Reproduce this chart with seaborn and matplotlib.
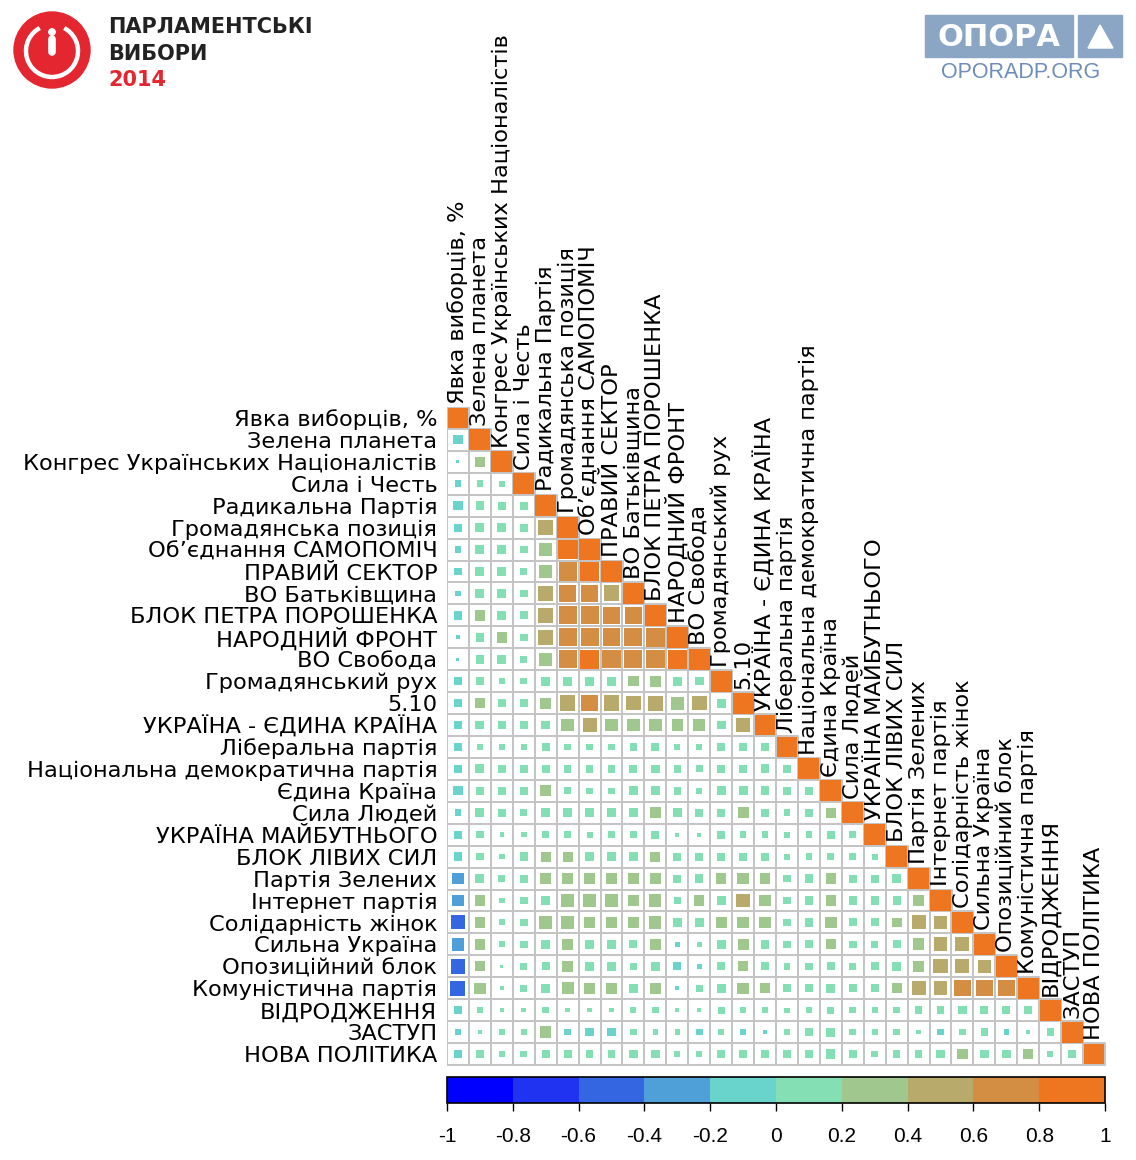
import numpy as np
import pandas as pd
import matplotlib
matplotlib.use('Agg')
import matplotlib.pyplot as plt
import seaborn as sns
from matplotlib.colors import ListedColormap, Normalize
from matplotlib.cm import ScalarMappable
from matplotlib.patches import Circle, Rectangle, Polygon, Arc

sns.set_theme(style='white')
plt.rcParams['font.family'] = ['DejaVu Sans']
plt.rcParams['text.color'] = 'black'

# Variables (turnout + party results)
parties = ['Явка виборців, %', 'Зелена планета', 'Конгрес Українських Націоналістів',
           'Сила і Честь', 'Радикальна Партія', 'Громадянська позиція',
           'Об’єднання САМОПОМІЧ', 'ПРАВИЙ СЕКТОР', 'ВО Батьківщина',
           'БЛОК ПЕТРА ПОРОШЕНКА', 'НАРОДНИЙ ФРОНТ', 'ВО Свобода',
           'Громадянський рух', '5.10', 'УКРАЇНА - ЄДИНА КРАЇНА',
           'Ліберальна партія', 'Національна демократична партія', 'Єдина Країна',
           'Сила Людей', 'УКРАЇНА МАЙБУТНЬОГО', 'БЛОК ЛІВИХ СИЛ', 'Партія Зелених',
           'Інтернет партія', 'Солідарність жінок', 'Сильна Україна',
           'Опозиційний блок', 'Комуністична партія', 'ВІДРОДЖЕННЯ', 'ЗАСТУП',
           'НОВА ПОЛІТИКА']

# lower triangle of the correlation matrix, row i holds columns 0..i-1
corr_lower = [
    [-0.19],
    [-0.02, 0.25],
    [-0.10, 0.10, 0.09],
    [-0.19, 0.17, 0.15, 0.15],
    [-0.15, 0.19, 0.19, 0.15, 0.50],
    [-0.10, 0.19, 0.18, 0.14, 0.38, 0.90],
    [-0.13, 0.18, 0.18, 0.12, 0.38, 0.75, 0.85],
    [-0.07, 0.18, 0.18, 0.14, 0.55, 0.72, 0.72, 0.58],
    [-0.18, 0.25, 0.18, 0.15, 0.52, 0.75, 0.75, 0.72, 0.72],
    [-0.04, 0.17, 0.26, 0.13, 0.50, 0.75, 0.75, 0.72, 0.75, 0.78],
    [-0.02, 0.17, 0.19, 0.12, 0.38, 0.75, 0.82, 0.75, 0.75, 0.78, 0.85],
    [-0.17, 0.16, 0.10, 0.10, 0.18, 0.19, 0.19, 0.19, 0.26, 0.28, 0.18, 0.17],
    [-0.17, 0.26, 0.15, 0.16, 0.28, 0.55, 0.62, 0.55, 0.50, 0.52, 0.38, 0.50, 0.19],
    [-0.15, 0.18, 0.15, 0.16, 0.18, 0.36, 0.45, 0.36, 0.34, 0.37, 0.30, 0.34, 0.18, 0.50],
    [-0.12, 0.10, 0.07, 0.08, 0.15, 0.10, 0.09, 0.09, 0.13, 0.15, 0.08, 0.07, 0.13, 0.14, 0.12],
    [-0.14, 0.19, 0.17, 0.13, 0.15, 0.12, 0.13, 0.13, 0.15, 0.16, 0.12, 0.11, 0.13, 0.17, 0.18, 0.12],
    [-0.19, 0.16, 0.13, 0.13, 0.27, 0.12, 0.10, 0.10, 0.18, 0.19, 0.13, 0.08, 0.18, 0.18, 0.18, 0.13, 0.16],
    [-0.10, 0.19, 0.13, 0.10, 0.18, 0.18, 0.19, 0.18, 0.17, 0.26, 0.17, 0.16, 0.15, 0.27, 0.16, 0.10,
     0.15, 0.25],
    [-0.14, 0.12, 0.05, 0.07, 0.13, 0.12, 0.08, 0.12, 0.12, 0.14, 0.04, 0.04, 0.15, 0.10, 0.10, 0.08,
     0.10, 0.15, 0.10],
    [-0.16, 0.13, 0.07, 0.16, 0.24, 0.24, 0.17, 0.16, 0.17, 0.24, 0.15, 0.15, 0.14, 0.15, 0.15, 0.08,
     0.10, 0.12, 0.10, 0.08],
    [-0.30, 0.18, 0.12, 0.15, 0.27, 0.30, 0.27, 0.27, 0.26, 0.29, 0.15, 0.16, 0.24, 0.30, 0.27, 0.13,
     0.17, 0.25, 0.15, 0.15, 0.16],
    [-0.30, 0.24, 0.08, 0.13, 0.17, 0.36, 0.36, 0.38, 0.30, 0.34, 0.13, 0.24, 0.18, 0.45, 0.32, 0.14,
     0.16, 0.25, 0.15, 0.15, 0.15, 0.30],
    [-0.45, 0.26, 0.08, 0.13, 0.36, 0.36, 0.30, 0.30, 0.32, 0.34, 0.18, 0.17, 0.27, 0.30, 0.30, 0.13,
     0.16, 0.30, 0.15, 0.15, 0.22, 0.45, 0.42],
    [-0.38, 0.25, 0.08, 0.13, 0.17, 0.26, 0.19, 0.19, 0.15, 0.30, -0.05, 0.06, 0.18, 0.27, 0.18, 0.13,
     0.15, 0.22, 0.13, 0.13, 0.15, 0.32, 0.45, 0.45],
    [-0.48, 0.24, 0.02, 0.10, 0.15, 0.25, 0.17, 0.18, 0.10, 0.17, -0.15, -0.05, 0.16, 0.24, 0.16, 0.10,
     0.13, 0.16, 0.11, 0.14, 0.17, 0.30, 0.46, 0.46, 0.42],
    [-0.52, 0.29, 0.04, 0.12, 0.18, 0.34, 0.27, 0.27, 0.18, 0.29, -0.04, 0.12, 0.18, 0.29, 0.25, 0.13,
     0.16, 0.18, 0.13, 0.14, 0.22, 0.45, 0.45, 0.62, 0.62, 0.62],
    [-0.14, 0.08, 0.04, 0.05, 0.10, 0.05, 0.05, 0.05, 0.08, 0.10, 0.04, 0.04, 0.12, 0.10, 0.08, 0.06,
     0.08, 0.12, 0.10, 0.08, 0.10, 0.13, 0.13, 0.16, 0.15, 0.15, 0.16],
    [-0.08, 0.04, 0.07, 0.07, 0.30, -0.10, -0.16, -0.16, 0.10, 0.07, 0.07, -0.10, 0.07, -0.10, -0.03,
     0.08, 0.12, 0.19, 0.10, 0.08, 0.10, 0.05, -0.10, 0.10, 0.12, -0.07, 0.03, 0.12],
    [-0.15, 0.13, 0.07, 0.10, 0.16, 0.15, 0.13, 0.12, 0.17, 0.18, 0.08, 0.08, 0.16, 0.17, 0.16, 0.12,
     0.13, 0.19, 0.13, 0.10, 0.13, 0.14, 0.16, 0.24, 0.18, 0.18, 0.24, 0.10, 0.13],
]

bin_colors = ['#0000FF', '#1F33F0', '#3366E0', '#4FA0D9', '#68D4CC',
              '#84E0B4', '#A0C88E', '#B8AA6A', '#D48E44', '#EF7621']
cbar_ticks = [-1, -0.8, -0.6, -0.4, -0.2, 0, 0.2, 0.4, 0.6, 0.8, 1]
cbar_labels = ['-1', '-0.8', '-0.6', '-0.4', '-0.2', '0', '0.2', '0.4', '0.6', '0.8', '1']

n = len(parties)
corr = np.eye(n)
for i, row in enumerate(corr_lower, start=1):
    corr[i, :i] = row
    corr[:i, i] = row

W, H = 1136, 1160
fig = plt.figure(figsize=(W / 100, H / 100), dpi=100)
ax = fig.add_axes([447 / W, 1 - 1065 / H, 658 / W, 658 / H])

rows, cols = np.tril_indices(n)
df = pd.DataFrame({'x': cols + 0.5, 'y': rows + 0.5, 'r': corr[rows, cols]})
df['absr'] = df['r'].abs()

cell_pt = 658 / n * 72 / 100

# grid of the lower triangle (white cells with grey border)
sns.scatterplot(data=df, x='x', y='y', marker='s', s=cell_pt ** 2, color='white',
                edgecolor='#C4C4C4', linewidth=1.4, legend=False, ax=ax, zorder=1)

# squares: colour by correlation bin, area by |r|
cmap = ListedColormap(bin_colors)
norm = Normalize(-1, 1)
sns.scatterplot(data=df, x='x', y='y', hue='r', palette=cmap, hue_norm=norm,
                size='absr', sizes=(0, (0.95 * cell_pt) ** 2), size_norm=(0, 1),
                marker='s', linewidth=0, legend=False, ax=ax, zorder=2)

ax.set_xlim(0, n)
ax.set_ylim(n, 0)
ax.set_xlabel('')
ax.set_ylabel('')
ax.set_xticks([])
ax.set_yticks(np.arange(n) + 0.5)
ax.set_yticklabels(parties, fontsize=16.2, color='black')
ax.tick_params(axis='y', length=0, pad=7)
for s in ax.spines.values():
    s.set_visible(False)

for c, name in enumerate(parties):
    ax.text(c + 0.5, c - 0.15, name, rotation=90, ha='center', va='bottom',
            fontsize=16.2, color='black', clip_on=False)

# colour legend
cax = fig.add_axes([447 / W, 1 - 1103 / H, 658 / W, 26 / H])
cb = fig.colorbar(ScalarMappable(norm=norm, cmap=cmap), cax=cax,
                  orientation='horizontal', ticks=cbar_ticks)
cb.ax.set_xticklabels(cbar_labels, fontsize=15, color='black',
                      family=['Liberation Sans', 'DejaVu Sans'])
cb.ax.tick_params(length=6, width=1, pad=11, color='black')
cb.outline.set_linewidth(1.2)
cb.outline.set_edgecolor('black')

# logos
lg = fig.add_axes([0, 0, 1, 1], zorder=-1)
lg.set_xlim(0, W)
lg.set_ylim(H, 0)
lg.axis('off')

red = '#E3262F'
lg.add_patch(Circle((52, 50), 38, color=red))
lg.add_patch(Arc((52, 51), 52, 52, theta1=-62, theta2=242, color='white', lw=3.2))
lg.add_patch(Circle((52, 32), 3.2, color='white'))
lg.plot([52, 52], [39, 52], color='white', lw=5.5, solid_capstyle='round')
lg.text(108, 27, 'ПАРЛАМЕНТСЬКІ', fontsize=15, fontweight='bold', va='center',
        color='#222222')
lg.text(108, 54, 'ВИБОРИ', fontsize=15, fontweight='bold', va='center',
        color='#222222')
lg.text(108, 80, '2014', fontsize=15, fontweight='bold', va='center', color=red)

blue = '#8BA5C5'
lg.add_patch(Rectangle((925, 15), 148, 42, color=blue))
lg.add_patch(Rectangle((1078, 15), 44, 42, color=blue))
lg.text(999, 37, 'ОПОРА', fontsize=22, fontweight='bold', color='white',
        ha='center', va='center')
lg.add_patch(Polygon([(1100, 25), (1088, 48), (1113, 48)], closed=True,
                     facecolor='white', edgecolor='white'))
lg.text(1021, 73, 'OPORADP.ORG', fontsize=15.5, color='#6E8DBB', ha='center',
        va='center', family=['Liberation Sans', 'DejaVu Sans'])

fig.savefig('out.png', dpi=100)
